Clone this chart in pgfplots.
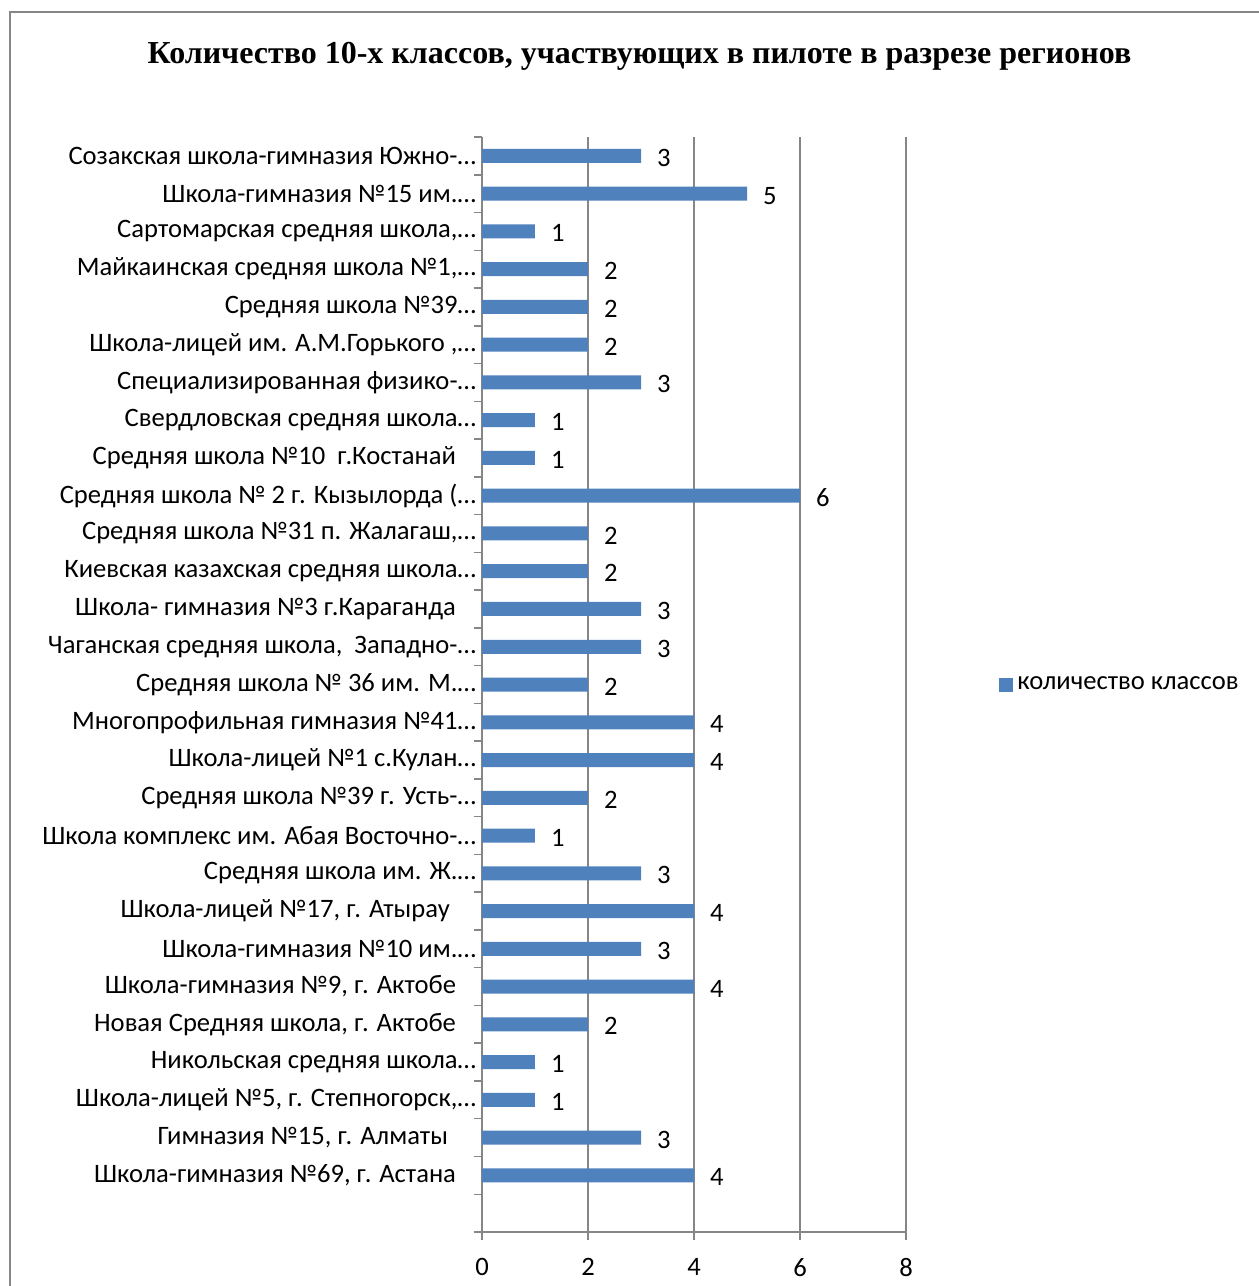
\documentclass[border=0pt]{standalone}
\usepackage{fontspec}
\setmainfont{Carlito}
\newfontfamily\titlefont{Liberation Serif}
\usepackage{pgfplots}
\pgfplotsset{compat=1.18}
\definecolor{barblue}{RGB}{79,129,189}
\definecolor{axgray}{RGB}{134,134,134}

\begin{document}
\begin{tikzpicture}
\path[use as bounding box] (0,0) rectangle (629.5pt,-643pt);
\draw[axgray, line width=0.6pt] (5pt,-660pt) -- (5pt,-6pt) -- (660pt,-6pt);
\node[font=\titlefont\bfseries\fontsize{16}{19}\selectfont] at (319.75pt,-28pt)
  {Количество 10-х классов, участвующих в пилоте в разрезе регионов};
\begin{axis}[
  at={(241pt,-616pt)}, anchor=south west,
  scale only axis, width=212pt, height=547.5pt,
  xbar, bar width=7pt,
  xmin=0, xmax=8, ymin=-0.5, ymax=28.5,
  axis lines*=left,
  axis line style={axgray, line width=0.75pt},
  xtick={0,2,4,6,8},
  ytick={1,...,28},
  minor ytick={-0.5,0.5,...,28.5},
  tick align=outside,
  major tick length=4pt, minor tick length=4pt,
  major x tick style={axgray, line width=0.75pt},
  major y tick style={draw=none},
  minor y tick style={axgray, line width=0.75pt},
  xmajorgrids,
  major x grid style={axgray, line width=0.75pt},
  /pgf/number format/assume math mode=true,
  tick label style={font=\fontsize{13.3}{15}\selectfont},
  xticklabel style={yshift=-5.5pt},
  yticklabel style={xshift=4.5pt},
  yticklabels={
    {Школа-гимназия №69, г. Астана\kern10pt},
    {Гимназия №15, г. Алматы\kern14pt},
    {Школа-лицей №5, г. Степногорск,…},
    {Никольская средняя школа…},
    {Новая Средняя школа, г. Актобе\kern10pt},
    {Школа-гимназия №9, г. Актобе\kern10pt},
    {Школа-гимназия №10 им.…},
    {Школа-лицей №17, г. Атырау\kern13pt},
    {Средняя школа им. Ж.…},
    {Школа комплекс им. Абая Восточно-…},
    {Средняя школа №39 г. Усть-…},
    {Школа-лицей №1 с.Кулан…},
    {Многопрофильная гимназия №41…},
    {Средняя школа № 36 им. М.…},
    {Чаганская средняя школа,\ \ Западно-…},
    {Школа- гимназия №3 г.Караганда\kern10pt},
    {Киевская казахская средняя школа…},
    {Средняя школа №31 п. Жалагаш,…},
    {Средняя школа № 2 г. Кызылорда (…},
    {Средняя школа №10\ \ г.Костанай\kern10pt},
    {Свердловская средняя школа…},
    {Специализированная физико-…},
    {Школа-лицей им. А.М.Горького ,…},
    {Средняя школа №39…},
    {Майкаинская средняя школа №1,…},
    {Сартомарская средняя школа,…},
    {Школа-гимназия №15 им.…},
    {Созакская школа-гимназия Южно-…}
  },
  nodes near coords,
  every node near coord/.append style={font=\fontsize{13.3}{15}\selectfont, anchor=west, xshift=4.5pt, yshift=-1pt},
  legend style={at={(1.205,0.5)}, anchor=west, draw=none, fill=none,
    font=\fontsize{13.3}{15}\selectfont},
  legend image code/.code={\fill[barblue] (0pt,-3.5pt) rectangle (7pt,3.5pt);},
]
\addplot[fill=barblue, draw=none] coordinates {
(4,1) (3,2) (1,3) (1,4) (2,5) (4,6) (3,7) (4,8) (3,9) (1,10)
(2,11) (4,12) (4,13) (2,14) (3,15) (3,16) (2,17) (2,18) (6,19) (1,20)
(1,21) (3,22) (2,23) (2,24) (2,25) (1,26) (5,27) (3,28)
};
\legend{количество классов}
\end{axis}
\end{tikzpicture}
\end{document}
